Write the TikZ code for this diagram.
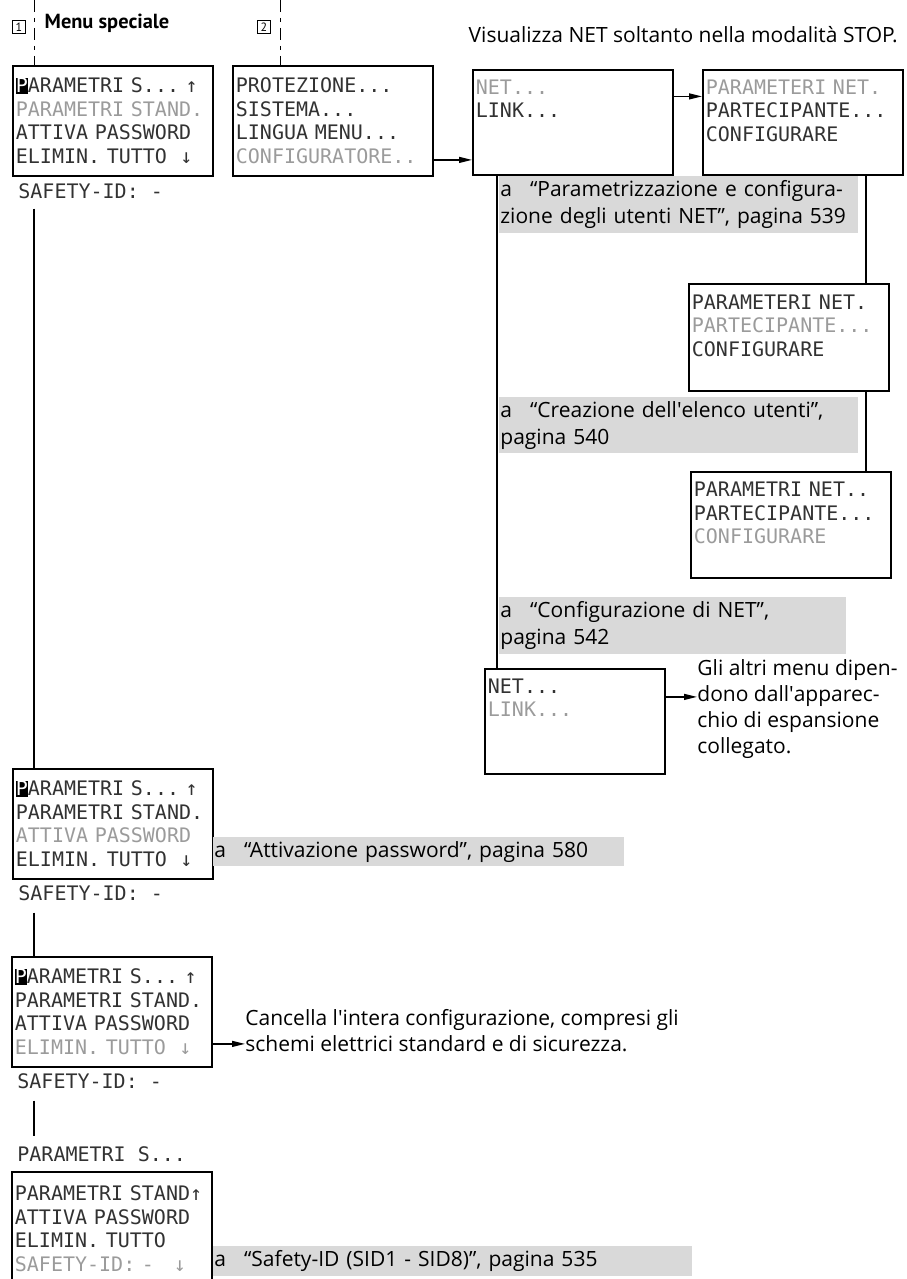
\documentclass[tikz,border=0pt]{standalone}
\usepackage{fontspec}
\setmainfont{Open Sans}
\newfontfamily\titlefont{PT Sans}
\newfontfamily\lcdfont{DejaVu Sans Mono}
\usetikzlibrary{arrows.meta,positioning}
\definecolor{lcdnero}{RGB}{50,50,50}
\definecolor{lcdgrigio}{RGB}{155,155,155}
\definecolor{fascia}{RGB}{217,217,217}
\newcommand{\lcd}{\lcdfont\fontsize{10}{11.75}\selectfont\frenchspacing
  \spaceskip=\fontcharwd\font`\A\relax\xspaceskip=\spaceskip}
\newcommand{\cursore}[1]{\makebox[0pt][l]{\color{black}\rule[-0.6pt]{6pt}{8pt}}\textcolor{white}{#1}}
\newcommand{\gr}[1]{\textcolor{lcdgrigio}{#1}}
\tikzset{
  display/.style={draw=black,line width=0.9pt,anchor=north west,align=left,
    text width=97pt,inner xsep=1.5pt,inner ysep=0pt,minimum width=100pt,
    minimum height=55pt,font=\lcd,text=lcdnero},
  riga/.style={inner sep=0pt,font=\lcd,text=lcdnero},
  rimando/.style={anchor=north west,fill=fascia,align=left,inner xsep=0.5pt,
    inner ysep=2pt,font=\fontsize{10.5}{13.5}\selectfont},
  nota/.style={anchor=north west,inner sep=0pt,align=left,
    font=\fontsize{10.5}{13}\selectfont},
  numero/.style={draw,line width=0.5pt,minimum size=6.5pt,inner sep=0pt,
    font=\titlefont\fontsize{6}{6}\selectfont},
  freccia/.style={-{Triangle[length=6.5pt,width=3pt]},line width=0.7pt},
  linea/.style={line width=0.7pt},
  tratteggio/.style={line width=0.5pt,dash pattern=on 6pt off 3pt on 2pt off 3pt},
}
\begin{document}
\begin{tikzpicture}[x=0.5pt,y=-0.5pt]
  \useasboundingbox (0,0) rectangle (906,1279);
  \coordinate (c1) at (34,0);
  \coordinate (c2) at (280,0);
  \coordinate (c3) at (497,0);
  \coordinate (c4) at (866,0);
  % intestazione
  \node[numero] (num1) at (19,27.5) {1};
  \node[numero] (num2) at (264,27.5) {2};
  \node[inner sep=0pt,font=\titlefont\bfseries\fontsize{10.2}{12}\selectfont] (titolo) at (107,23) {Menu speciale};
  \node[nota,anchor=east] (stop) at (898,35) {Visualizza NET soltanto nella modalità STOP.};
  % menu speciale
  \node[display] (m1) at (12,65) {\cursore{P}ARAMETRI S...\ ↑\\\gr{PARAMETRI STAND.}\\ATTIVA PASSWORD\\ELIMIN. TUTTO\ \ ↓};
  \node[riga,below right=3pt and 3pt of m1.south west] (sid1) {SAFETY-ID: -};
  \node[display] (m2) at (232,65) {PROTEZIONE...\\SISTEMA...\\LINGUA MENU...\\\gr{CONFIGURATORE..}};
  \node[display,minimum height=52.5pt] (m3) at (472,69) {\gr{NET...}\\LINK...\\\mbox{}\\\mbox{}};
  \node[display,minimum height=52.5pt] (m4) at (702,69) {\gr{PARAMETERI NET.}\\PARTECIPANTE...\\CONFIGURARE\\\mbox{}};
  \node[rimando,text width=178.5pt] (r1) at (499,176) {a\kern9pt“Parametrizzazione~e~configura-\\zione degli utenti NET”, pagina 539};
  \node[display,minimum height=53.5pt] (m5) at (688,283) {PARAMETERI NET.\\\gr{PARTECIPANTE...}\\CONFIGURARE\\\mbox{}};
  \node[rimando,text width=178.5pt] (r2) at (499,397) {a\kern9pt“Creazione~dell\textquotesingle elenco~utenti”,\\pagina 540};
  \node[display,minimum height=53pt] (m6) at (690,471) {PARAMETRI NET..\\PARTECIPANTE...\\\gr{CONFIGURARE}\\\mbox{}};
  \node[rimando,text width=172.5pt] (r3) at (499,597) {a\kern9pt“Configurazione~di~NET”,\\pagina 542};
  \node[display,minimum width=90pt,text width=87pt,minimum height=52.5pt] (m7) at (484,668) {NET...\\\gr{LINK...}\\\mbox{}\\\mbox{}};
  \node[nota] (altri) at (697,659) {Gli altri menu dipen-\\dono dall\textquotesingle apparec-\\chio di espansione\\collegato.};
  \node[display] (m8) at (12,768) {\cursore{P}ARAMETRI S...\ ↑\\PARAMETRI STAND.\\\gr{ATTIVA PASSWORD}\\ELIMIN. TUTTO\ \ ↓};
  \node[riga,below right=2.5pt and 3pt of m8.south west] (sid8) {SAFETY-ID: -};
  \node[rimando,text width=204.5pt] (r4) at (213,837) {a\kern9pt“Attivazione~password”,~pagina~580};
  \node[display] (m9) at (11,956) {\cursore{P}ARAMETRI S...\ ↑\\PARAMETRI STAND.\\ATTIVA PASSWORD\\\gr{ELIMIN. TUTTO\ \ ↓}};
  \node[riga,below right=2.5pt and 3pt of m9.south west] (sid9) {SAFETY-ID: -};
  \node[nota] (cancella) at (245,1009) {Cancella l\textquotesingle intera configurazione, compresi gli\\schemi elettrici standard e di sicurezza.};
  \node[display,minimum height=57pt] (m10) at (11,1171) {PARAMETRI STAND↑\\ATTIVA PASSWORD\\ELIMIN. TUTTO\\\gr{SAFETY-ID: -\ \ \ ↓}};
  \node[riga,above right=4.5pt and 3pt of m10.north west] (ps) {PARAMETRI S...};
  \node[rimando,text width=238.5pt] (r5) at (213,1246) {a\kern9pt“Safety-ID~(SID1~-~SID8)”,~pagina~535};
  % collegamenti
  \draw[tratteggio] (c1) -- (m1.north -| c1);
  \draw[tratteggio] (c2) -- (m2.north -| c2);
  \draw[linea] ([yshift=-5pt]sid1.south -| c1) -- (m8.north -| c1);
  \draw[linea] ([yshift=-6pt]sid8.south -| c1) -- (m9.north -| c1);
  \draw[linea] ([yshift=-6pt]sid9.south -| c1) -- ([yshift=5pt]ps.north -| c1);
  \draw[linea] (m3.south -| c3) -- (m7.north -| c3);
  \draw[linea] (m4.south -| c4) -- (m5.north -| c4);
  \draw[linea] (m5.south -| c4) -- (m6.north -| c4);
  \draw[freccia] ([yshift=-19.5pt]m2.east) -- ([yshift=-19.5pt]m2.east -| m3.west);
  \draw[freccia] ([yshift=13pt]m3.east) -- ([yshift=13pt]m3.east -| m4.west);
  \draw[freccia] ([yshift=12.25pt]m7.east) -- ([yshift=12.25pt]m7.east -| altri.west);
  \draw[freccia] ([yshift=-16pt]m9.east) -- ([yshift=-16pt]m9.east -| cancella.west);
\end{tikzpicture}
\end{document}
